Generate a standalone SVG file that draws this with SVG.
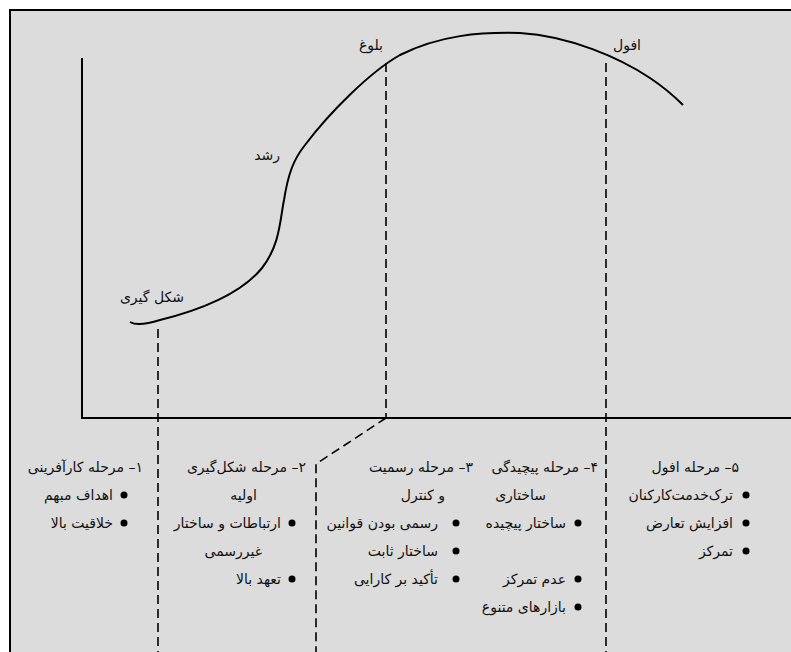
<svg xmlns="http://www.w3.org/2000/svg" width="791" height="652" viewBox="0 0 791 652">
<style>
.bg{fill:#dcdcdc;stroke:#000;stroke-width:2}
.ax{stroke:#000;stroke-width:2;fill:none}
.curve{stroke:#000;stroke-width:2;fill:none}
.dash{stroke:#000;stroke-width:1.6;fill:none;stroke-dasharray:9 5}
.t{font-family:"DejaVu Sans",sans-serif;font-size:14px;fill:#111;direction:rtl;text-anchor:start}
.b{fill:#000}
</style>
<rect class="bg" x="10" y="10" width="800" height="700"/>
<g id="axes">
<line class="ax" x1="82" y1="58" x2="82" y2="418"/>
<line class="ax" x1="81" y1="418" x2="791" y2="418"/>
</g>
<g id="curve">
<path class="curve" d="M130,322 Q138,327 160,320 C200,310 240,295 262,268 C280,245 280,220 284,200 C288,175 293,160 305,145 C330,112 370,72 400,55 C440,35 480,32 520,33 C570,36 620,58 650,78 C665,88 675,97 683,105"/>
</g>
<g id="connectors">
<line class="dash" x1="158" y1="329" x2="158" y2="652"/>
<line class="dash" x1="386" y1="63" x2="386" y2="418"/>
<line class="dash" x1="606" y1="63" x2="606" y2="652"/>
<path class="dash" d="M386,418 L316,464 L316,652"/>
</g>
<g id="curve-labels">
<text class="t" x="383" y="50">بلوغ</text>
<text class="t" x="280" y="160">رشد</text>
<text class="t" x="641" y="50">افول</text>
<text class="t" x="184" y="302">شکل گیری</text>
</g>
<g id="stage1">
<text class="t" x="143" y="472">۱– مرحله کارآفرینی</text>
<circle class="b" cx="124" cy="495" r="3.5"/>
<text class="t" x="113" y="500">اهداف مبهم</text>
<circle class="b" cx="124" cy="523" r="3.5"/>
<text class="t" x="113" y="528">خلاقیت بالا</text>
</g>
<g id="stage2">
<text class="t" x="306" y="472">۲– مرحله شکل‌گیری</text>
<text class="t" x="257" y="500">اولیه</text>
<circle class="b" cx="292" cy="523" r="3.5"/>
<text class="t" x="281" y="528">ارتباطات و ساختار</text>
<text class="t" x="262" y="556">غیررسمی</text>
<circle class="b" cx="292" cy="579" r="3.5"/>
<text class="t" x="281" y="584">تعهد بالا</text>
</g>
<g id="stage3">
<text class="t" x="473" y="472">۳– مرحله رسمیت</text>
<text class="t" x="445" y="500">و کنترل</text>
<circle class="b" cx="456" cy="523" r="3.5"/>
<text class="t" x="438" y="528">رسمی بودن قوانین</text>
<circle class="b" cx="456" cy="551" r="3.5"/>
<text class="t" x="438" y="556">ساختار ثابت</text>
<circle class="b" cx="456" cy="579" r="3.5"/>
<text class="t" x="438" y="584">تأکید بر کارایی</text>
</g>
<g id="stage4">
<text class="t" x="598" y="472">۴– مرحله پیچیدگی</text>
<text class="t" x="546" y="500">ساختاری</text>
<circle class="b" cx="578" cy="523" r="3.5"/>
<text class="t" x="566" y="528">ساختار پیچیده</text>
<circle class="b" cx="578" cy="579" r="3.5"/>
<text class="t" x="566" y="584">عدم تمرکز</text>
<circle class="b" cx="578" cy="607" r="3.5"/>
<text class="t" x="566" y="612">بازارهای متنوع</text>
</g>
<g id="stage5">
<text class="t" x="739" y="472">۵– مرحله افول</text>
<circle class="b" cx="746" cy="495" r="3.5"/>
<text class="t" x="733" y="500">ترک‌خدمت‌کارکنان</text>
<circle class="b" cx="746" cy="523" r="3.5"/>
<text class="t" x="733" y="528">افزایش تعارض</text>
<circle class="b" cx="746" cy="551" r="3.5"/>
<text class="t" x="733" y="556">تمرکز</text>
</g>
</svg>
